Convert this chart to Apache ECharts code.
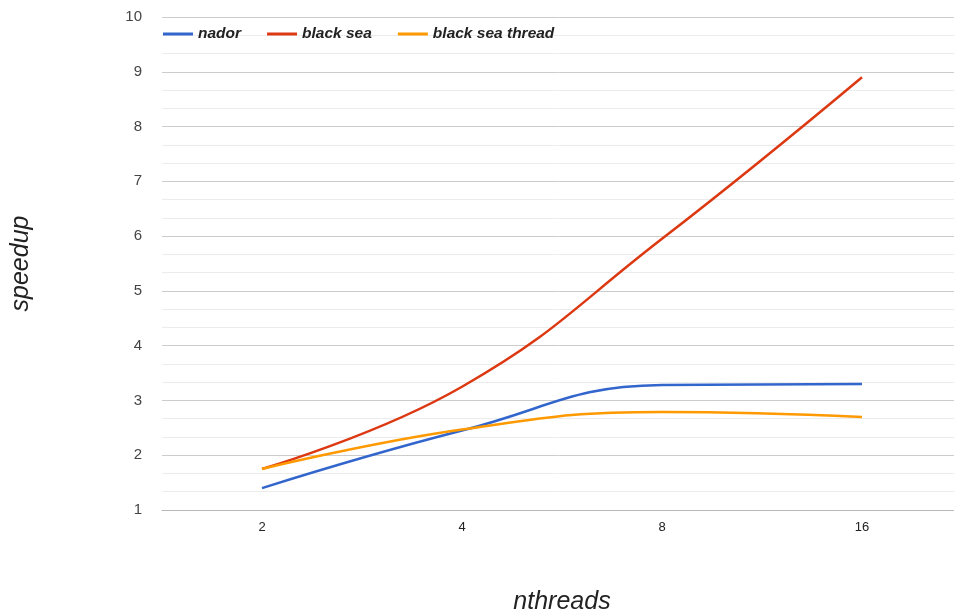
<!DOCTYPE html>
<html>
<head>
<meta charset="utf-8">
<script src="https://cdn.jsdelivr.net/npm/echarts@6/dist/echarts.min.js"></script>
<style>
  html, body { margin: 0; padding: 0; background: #fff; }
  #chart { width: 954px; height: 614px; }
</style>
</head>
<body>
<div id="chart"></div>
<script>
// Thread counts on the x axis
const threads = ['2', '4', '8', '16'];

// Speedup per configuration
const nador = [1.4, 2.45, 3.28, 3.3];
const blackSea = [1.75, 3.25, 5.95, 8.9];
const blackSeaThread = [1.75, 2.47, 2.79, 2.7];

const chart = echarts.init(document.getElementById('chart'));

const lineSeries = (name, data, color) => ({
  name,
  type: 'line',
  data,
  smooth: 0.45,
  symbol: 'none',
  lineStyle: { color, width: 2.5 },
  itemStyle: { color }
});

chart.setOption({
  animation: false,
  textStyle: { fontFamily: 'Liberation Sans, Arial, sans-serif' },
  grid: {
    left: 162, top: 17, width: 800, height: 493,
    containLabel: false, outerBoundsMode: 'none'
  },
  legend: {
    left: 163,
    top: 26,
    padding: 0,
    itemWidth: 30,
    itemHeight: 3,
    itemGap: 26,
    icon: 'rect',
    textStyle: { fontSize: 15.5, fontStyle: 'italic', fontWeight: 'bold', color: '#222' },
    data: ['nador', 'black sea', 'black sea thread']
  },
  xAxis: {
    type: 'category',
    data: threads,
    boundaryGap: true,
    name: 'nthreads',
    nameLocation: 'middle',
    nameGap: 80,
    nameTextStyle: { fontSize: 25, fontStyle: 'italic', color: '#222' },
    axisLine: { show: true, lineStyle: { color: '#b8b8b8', width: 1 } },
    axisTick: { show: false },
    axisLabel: { fontSize: 13, color: '#222', margin: 11 },
    splitLine: { show: false }
  },
  yAxis: {
    type: 'value',
    min: 1,
    max: 10,
    interval: 1,
    name: 'speedup',
    nameLocation: 'middle',
    nameGap: 128,
    nameTextStyle: { fontSize: 25, fontStyle: 'italic', color: '#222' },
    axisLine: { show: false },
    axisTick: { show: false },
    axisLabel: { fontSize: 15, color: '#444', margin: 20 },
    splitLine: { lineStyle: { color: '#cccccc', width: 1 } },
    minorTick: { show: false, splitNumber: 3 },
    minorSplitLine: { show: true, lineStyle: { color: '#ececec', width: 1 } }
  },
  series: [
    lineSeries('nador', nador, '#3366cc'),
    lineSeries('black sea', blackSea, '#dc3912'),
    lineSeries('black sea thread', blackSeaThread, '#ff9900')
  ]
});
</script>
</body>
</html>
